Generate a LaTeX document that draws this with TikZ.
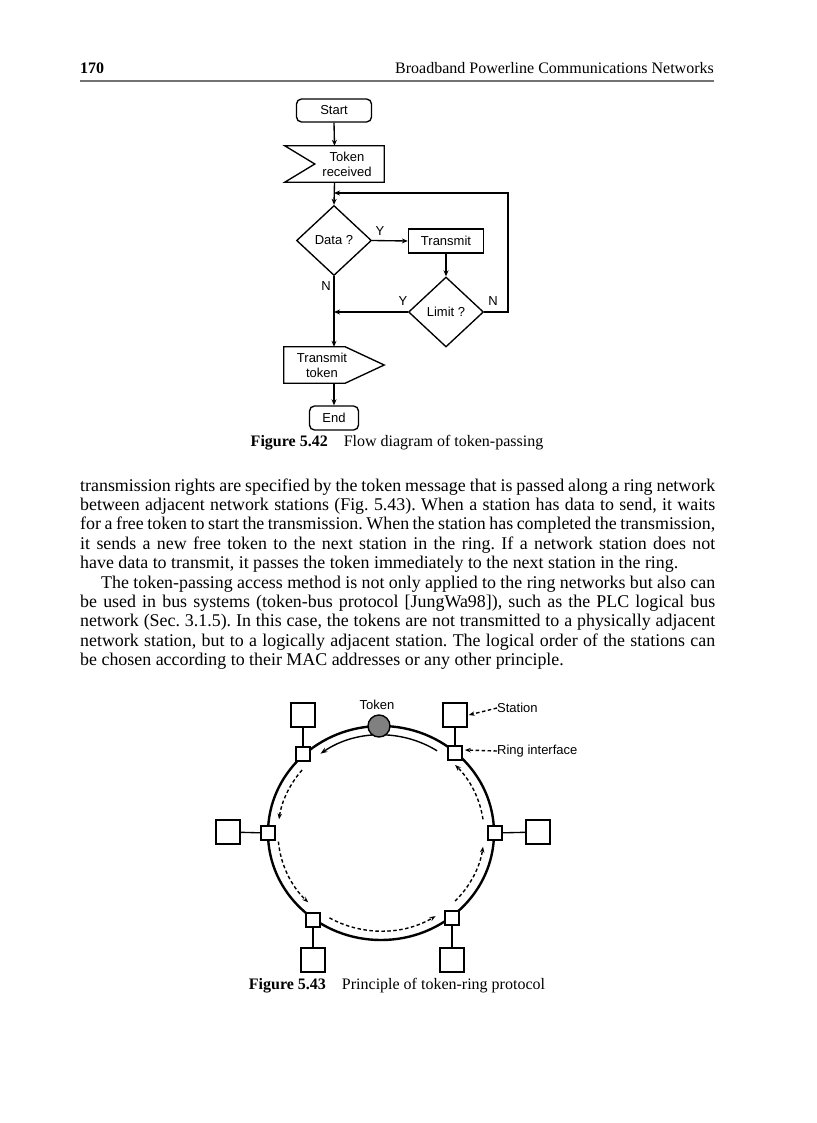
\documentclass[tikz,border=0pt]{standalone}
\usepackage{fontspec}
\setmainfont{Liberation Serif}
\setsansfont{Liberation Sans}
\usetikzlibrary{arrows.meta,shapes.geometric,calc}
\newcommand\jline[1]{\hbox to 635pt{#1}}
\begin{document}
\begin{tikzpicture}[x=1pt,y=-1pt,
  lbl/.style={font=\sffamily\fontsize{13}{15}\selectfont, inner sep=0pt},
  fl/.style={draw, line width=1.35pt, font=\sffamily\fontsize{13}{15}\selectfont, inner sep=0pt},
  arr/.style={line width=1.35pt, -{Stealth[length=6pt,width=5pt]}},
  iface/.style={draw, fill=white, line width=1.6pt, minimum size=14pt, inner sep=0pt},
  stat/.style={draw, fill=white, line width=1.35pt, minimum size=24pt, inner sep=0pt},
  tarr/.style={line width=1.4pt, -{Stealth[length=7pt,width=5pt]}},
  darr/.style={line width=1.4pt, dash pattern=on 3.5pt off 2.5pt, -{Stealth[length=6pt,width=4.5pt]}},
  figcap/.style={font=\fontsize{16}{19}\selectfont, inner sep=0pt, anchor=base}]
\fill[white] (0,0) rectangle (816,1123);
\useasboundingbox (0,0) rectangle (816,1123);
\frenchspacing

% header
\node[anchor=base west, inner sep=0pt, font=\bfseries\fontsize{16}{19}\selectfont] (pg) at (80,74) {170};
\node[anchor=base east, inner sep=0pt, font=\fontsize{16}{19}\selectfont] (hd) at (714,74) {Broadband Powerline Communications Networks};
\draw[line width=1.6pt, black!55] (80,81) -- (714,81);

% flowchart
\node[fl, rounded corners=5pt, minimum width=75pt, minimum height=23pt] (start) at (334,110.5) {Start};
\node[minimum width=99pt, minimum height=36pt, inner sep=0pt] (tr) at (334.5,164) {};
\draw[line width=1.35pt] (tr.north west) -- (tr.north east) -- (tr.south east) -- (tr.south west) -- ($(tr.west)+(30,0)$) -- cycle;
\node[lbl, align=center] (trt) at (347,164) {Token\\received};
\node[fl, diamond, minimum width=75pt, minimum height=70pt] (data) at (334,240.5) {Data ?};
\node[fl, minimum width=75pt, minimum height=24pt] (tx) at (446,241) {Transmit};
\node[fl, diamond, minimum width=75pt, minimum height=70pt] (lim) at (446,312) {Limit ?};
\node[minimum width=100pt, minimum height=36pt, inner sep=0pt] (tt) at (334,365) {};
\draw[line width=1.35pt] (tt.north west) -- ($(tt.north east)+(-39,0)$) -- (tt.east) -- ($(tt.south east)+(-39,0)$) -- (tt.south west) -- cycle;
\node[lbl, align=center] (ttt) at (322,365) {Transmit\\token};
\node[fl, rounded corners=5pt, minimum width=49pt, minimum height=24pt] (end) at (334,418) {End};

\coordinate (j1) at (334,193);
\coordinate (lr) at (508,312);
\coordinate (j2) at (334,312);

\draw[arr] (start.south) -- (tr.north);
\draw[arr] (tr.south) -- (data.north);
\draw[arr] (data.east) -- (tx.west);
\draw[arr] (tx.south) -- (lim.north);
\draw[arr] (lim.east) -- (lr) |- (j1);
\draw[arr] (lim.west) -- (j2);
\draw[arr] (data.south) -- (tt.north);
\draw[arr] (tt.south) -- (end.north);

\node[lbl] (ly1) at (380,231) {Y};
\node[lbl] (ln1) at (326,286) {N};
\node[lbl] (ly2) at (403,301) {Y};
\node[lbl] (ln2) at (493,301) {N};

\node[figcap] (cap1) at (397,446) {\textbf{Figure 5.42}\quad Flow diagram of token-passing};

% body text
\node[anchor=base west, inner sep=0pt] (body) at (80,491) {\fontsize{17.9}{19.4}\selectfont\frenchspacing\vtop{%
\jline{transmission rights are specified by the token message that is passed along a ring network}
\jline{between adjacent network stations (Fig. 5.43). When a station has data to send, it waits}
\jline{for a free token to start the transmission. When the station has completed the transmission,}
\jline{it sends a new free token to the next station in the ring. If a network station does not}
\hbox{have data to transmit, it passes the token immediately to the next station in the ring.}
\jline{\hspace*{21pt}The token-passing access method is not only applied to the ring networks but also can}
\jline{be used in bus systems (token-bus protocol [JungWa98]), such as the PLC logical bus}
\jline{network (Sec. 3.1.5). In this case, the tokens are not transmitted to a physically adjacent}
\jline{network station, but to a logically adjacent station. The logical order of the stations can}
\hbox{be chosen according to their MAC addresses or any other principle.}}};

% ring figure
\coordinate (C) at (381,833);
\draw[line width=2.4pt] (C) ellipse [x radius=113pt, y radius=107pt];

\draw[tarr] (C) ++(57:103pt and 98pt) arc[start angle=57, end angle=126, x radius=103pt, y radius=98pt];
\draw[darr] (C) ++(140:103pt and 98pt) arc[start angle=140, end angle=172, x radius=103pt, y radius=98pt];
\draw[darr] (C) ++(185:103pt and 98pt) arc[start angle=185, end angle=225, x radius=103pt, y radius=98pt];
\draw[darr] (C) ++(240:103pt and 98pt) arc[start angle=240, end angle=302, x radius=103pt, y radius=98pt];
\draw[darr] (C) ++(316:103pt and 98pt) arc[start angle=316, end angle=352, x radius=103pt, y radius=98pt];
\draw[darr] (C) ++(8:103pt and 98pt) arc[start angle=8, end angle=44, x radius=103pt, y radius=98pt];

\node[iface] (i1) at (303,754) {};
\node[iface] (i2) at (455,753) {};
\node[iface] (i3) at (268,833) {};
\node[iface] (i4) at (495,833) {};
\node[iface] (i5) at (313,920) {};
\node[iface] (i6) at (452,918) {};

\node[stat] (s1) at (303,715) {};
\node[stat] (s2) at (455,715) {};
\node[stat] (s3) at (228,832) {};
\node[stat] (s4) at (538,832) {};
\node[stat] (s5) at (313,960) {};
\node[stat] (s6) at (452,960) {};

\draw[line width=1.35pt] (s1) -- (i1);
\draw[line width=1.35pt] (s2) -- (i2);
\draw[line width=1.35pt] (s3) -- (i3);
\draw[line width=1.35pt] (s4) -- (i4);
\draw[line width=1.35pt] (s5) -- (i5);
\draw[line width=1.35pt] (s6) -- (i6);

\node[circle, draw, fill=black!50, line width=1.4pt, minimum size=22pt, inner sep=0pt] (tok) at (379,726) {};
\node[lbl] (ltok) at (377,705) {Token};

\node[lbl, anchor=west] (lst) at (497,708) {Station};
\draw[darr] (lst.west) -- ($(s2.east)+(1,0)$);
\node[lbl, anchor=west] (lri) at (497,751) {Ring interface};
\draw[darr] (lri.west) -- ($(i2.east)+(2,-3)$);

\node[figcap] (cap2) at (397,989) {\textbf{Figure 5.43}\quad Principle of token-ring protocol};
\end{tikzpicture}
\end{document}
